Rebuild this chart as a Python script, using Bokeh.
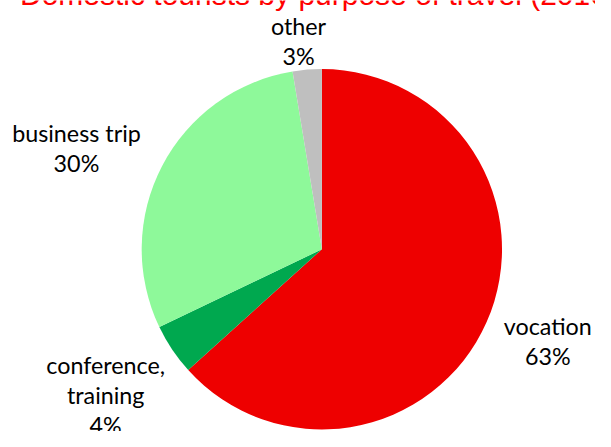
import math
from bokeh.plotting import figure
from bokeh.models import Range1d, ColumnDataSource
from bokeh.core.properties import value
from bokeh.embed import file_html
from bokeh.resources import INLINE

# ---- data (clockwise from 12 o'clock) ----
categories = ["vocation", "conference,\ntraining", "business trip", "other"]
shares = [63.3, 4.6, 29.5, 2.6]          # slice sizes
pct_labels = ["63%", "4%", "30%", "3%"]   # printed labels
colors = ["#EE0000", "#00A84F", "#8EF99A", "#BFBFBF"]
title = "Domestic tourists by purpose of travel (2016)"

# ---- layout (reference pixel coords, y downward) ----
W, H = 595, 431
REF_W, REF_H = 611, 447
cx_img, cy_img, R = 330, 258, 185
label_pos = [(562, 344), (108, 385), (78, 144), (306, 33)]  # first baseline
line_gap = 31
LABEL_SHIFT = 6.5    # compensates renderer's baseline placement
TITLE_BASE = -6.5
FONT = value("Lato")

def yd(y_img):
    return REF_H - y_img

p = figure(width=W, height=H, x_range=Range1d(0, REF_W), y_range=Range1d(0, REF_H),
           output_backend="svg", toolbar_location=None, min_border=0,
           x_axis_type=None, y_axis_type=None)
p.grid.visible = False
p.outline_line_color = None
p.background_fill_color = "white"
p.border_fill_color = "white"

total = sum(shares)
starts, ends = [], []
cum = 0.0
for s in shares:
    a0 = math.pi / 2 - 2 * math.pi * cum / total
    cum += s
    a1 = math.pi / 2 - 2 * math.pi * cum / total
    starts.append(a0)
    ends.append(a1)

src = ColumnDataSource(dict(start=starts, end=ends, color=colors))
p.wedge(x=cx_img, y=yd(cy_img), radius=R, start_angle="start", end_angle="end",
        direction="clock", fill_color="color", line_color=None, source=src)

xs, ys, txt = [], [], []
for cat, pct, (lx, ly) in zip(categories, pct_labels, label_pos):
    lines = cat.split("\n") + [pct]
    for i, ln in enumerate(lines):
        xs.append(lx)
        ys.append(yd(ly - LABEL_SHIFT + i * line_gap))
        txt.append(ln)

p.text(x=xs, y=ys, text=txt, text_font=FONT, text_font_size="23.3px",
       text_align="center", text_baseline="alphabetic", text_color="#000000")

p.text(x=[20], y=[yd(TITLE_BASE)], text=[title], text_font=value("Liberation Sans"),
       text_font_size="30px", text_align="left", text_baseline="alphabetic",
       text_color="#FF0000")

open("out.html", "w").write(file_html(p, INLINE))
